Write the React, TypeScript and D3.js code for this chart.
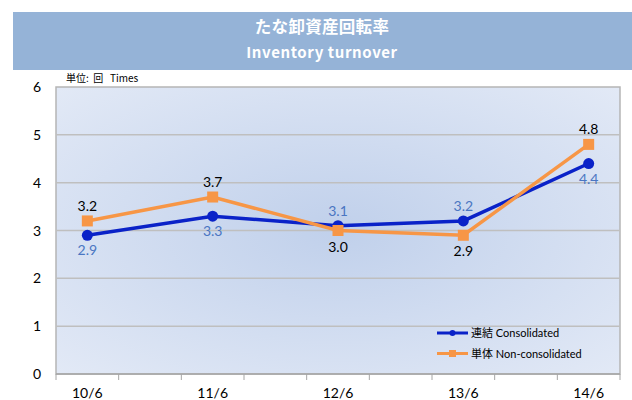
import React from "react";
import * as d3 from "d3";

const categories = ["10/6", "11/6", "12/6", "13/6", "14/6"];
const consolidated = [2.9, 3.3, 3.1, 3.2, 4.4];
const nonConsolidated = [3.2, 3.7, 3.0, 2.9, 4.8];
const consolidatedLabelPos = ["below", "below", "above", "above", "below"];
const nonConsolidatedLabelPos = ["above", "above", "below", "below", "above"];
const yTicks = [0, 1, 2, 3, 4, 5, 6];
const titleJa = "たな卸資産回転率";
const titleEn = "Inventory turnover";
const unitLabel = "単位:  回   Times";
const legendLabels = ["連結 Consolidated", "単体 Non-consolidated"];

const W = 632;
const H = 400;
const plot = { left: 56, right: 620, top: 87, bottom: 374 };
const FONT = "Lato, 'Noto Sans CJK JP', sans-serif";
const BLUE = "#0a22c8";
const ORANGE = "#f79646";
const LABEL_BLUE = "#4a76c2";

export default function App() {
  const x = d3.scaleLinear().domain([-0.25, categories.length - 0.75]).range([plot.left, plot.right]);
  const y = d3.scaleLinear().domain([0, 6]).range([plot.bottom, plot.top]);
  const line = d3
    .line<number>()
    .x((_, i) => x(i))
    .y((d) => y(d));
  const xTickVals = d3.range(-0.25, categories.length - 0.74, 0.5);

  return (
    <svg width={W} height={H} style={{ position: "absolute", left: 0, top: 0 }} fontFamily={FONT}>
      <defs>
        <radialGradient id="bg" cx="50%" cy="50%" r="70%">
          <stop offset="0%" stopColor="#c0d0eb" />
          <stop offset="100%" stopColor="#e2e9f6" />
        </radialGradient>
      </defs>
      <rect x={0} y={0} width={W} height={H} fill="#ffffff" />
      {/* title banner */}
      <rect x={13} y={12} width={W - 13} height={58} fill="#95b3d7" />
      <text x={322} y={33} textAnchor="middle" fill="#ffffff" fontSize={16.5} fontWeight="bold" fontFamily="'Noto Sans CJK JP', sans-serif" letterSpacing={0.3}>
        {titleJa}
      </text>
      <text x={322} y={58} textAnchor="middle" fill="#ffffff" fontSize={15} fontWeight="bold" fontFamily="'Noto Sans CJK JP', sans-serif" letterSpacing={0.6} style={{ whiteSpace: "pre" }}>
        {titleEn}
      </text>
      <text x={66} y={82} fontSize={10} fill="#000" fontFamily="'Noto Sans CJK JP', sans-serif" style={{ whiteSpace: "pre" }}>
        {unitLabel}
      </text>

      {/* plot area */}
      <rect x={plot.left} y={plot.top} width={plot.right - plot.left} height={plot.bottom - plot.top} fill="url(#bg)" stroke="#b5b5b5" strokeWidth={1.5} />
      {yTicks.map((t) => (
        <g key={t}>
          {t > 0 && t < 6 && (
            <line x1={plot.left} x2={plot.right} y1={y(t)} y2={y(t)} stroke="#bfbfbf" strokeWidth={1.5} />
          )}
          <text x={41} y={y(t) + 5} textAnchor="end" fontSize={14} fill="#000">
            {t}
          </text>
        </g>
      ))}
      <line x1={plot.left} x2={plot.right} y1={plot.bottom} y2={plot.bottom} stroke="#a6a6a6" strokeWidth={1.5} />
      {xTickVals.map((t, i) => (
        <line key={i} x1={x(t)} x2={x(t)} y1={plot.bottom} y2={plot.bottom + 6} stroke="#a6a6a6" strokeWidth={1} />
      ))}
      {categories.map((c, i) => (
        <text key={c} x={x(i)} y={398} textAnchor="middle" fontSize={14} fill="#000">
          {c}
        </text>
      ))}

      {/* consolidated line */}
      <path d={line(consolidated) || ""} fill="none" stroke={BLUE} strokeWidth={3.5} />
      {consolidated.map((v, i) => (
        <circle key={i} cx={x(i)} cy={y(v)} r={5.5} fill={BLUE} />
      ))}
      {/* non-consolidated line */}
      <path d={line(nonConsolidated) || ""} fill="none" stroke={ORANGE} strokeWidth={3.5} />
      {nonConsolidated.map((v, i) => (
        <rect key={i} x={x(i) - 5.5} y={y(v) - 5.5} width={11} height={11} fill={ORANGE} />
      ))}

      {/* labels */}
      {consolidated.map((v, i) => (
        <text
          key={i}
          x={x(i)}
          y={consolidatedLabelPos[i] === "above" ? y(v) - 10 : y(v) + 20}
          textAnchor="middle"
          fontSize={14}
          fill={LABEL_BLUE}
        >
          {v.toFixed(1)}
        </text>
      ))}
      {nonConsolidated.map((v, i) => (
        <text
          key={i}
          x={x(i)}
          y={nonConsolidatedLabelPos[i] === "above" ? y(v) - 10 : y(v) + 21}
          textAnchor="middle"
          fontSize={14}
          fill="#000"
        >
          {v.toFixed(1)}
        </text>
      ))}

      {/* legend */}
      {legendLabels.map((l, i) => {
        const ly = 333 + i * 20.5;
        return (
          <g key={l}>
            <line x1={437} x2={468} y1={ly} y2={ly} stroke={i === 0 ? BLUE : ORANGE} strokeWidth={3} />
            {i === 0 ? (
              <circle cx={452.5} cy={ly} r={3} fill={BLUE} />
            ) : (
              <rect x={449} y={ly - 3.5} width={7} height={7} fill={ORANGE} />
            )}
            <text x={471} y={ly + 4} fontSize={11} fill="#000">
              {l}
            </text>
          </g>
        );
      })}
    </svg>
  );
}
